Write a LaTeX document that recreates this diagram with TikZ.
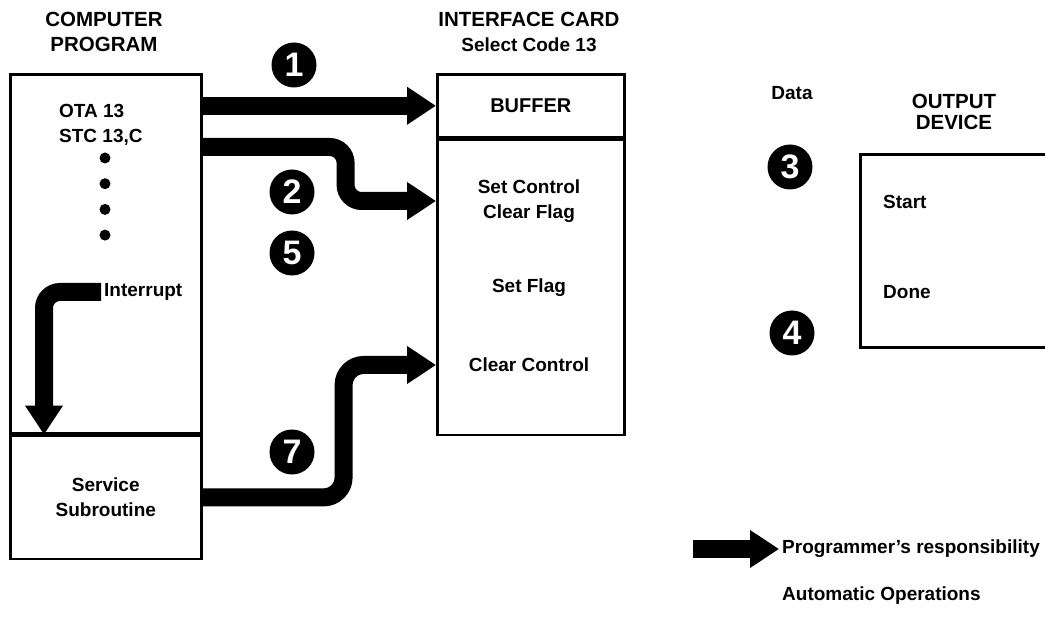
\documentclass[tikz,border=0pt]{standalone}
\usepackage{fontspec}
\setmainfont{Liberation Sans}
\usetikzlibrary{arrows.meta,positioning}

\begin{document}
\begin{tikzpicture}[
  x=1pt, y=-1pt,
  font=\bfseries\fontsize{19}{25}\selectfont,
  inner sep=3pt,
  panel/.style={draw, line width=2.6pt, inner sep=0pt, anchor=north west, align=center},
  head/.style={align=center, font=\bfseries\fontsize{20.5}{25}\selectfont},
  txt/.style={align=center},
  num/.style={circle, fill=black, text=white, inner sep=0pt, minimum size=45pt, font=\bfseries\fontsize{34}{34}\selectfont},
  fat/.style={-{Triangle[length=29pt, width=36pt]}, line width=18pt, rounded corners=16pt},
  node distance=0pt
]
\useasboundingbox (0,0) rectangle (1045,620);
\clip (0,0) rectangle (1045,620);

\node[panel, minimum width=191pt, minimum height=359pt] (prog) at (9,73) {};
\node[panel, below=of prog, minimum width=191pt, minimum height=123pt] (serv) {Service\\Subroutine};
\node[panel, minimum width=187pt, minimum height=63pt, font=\bfseries\fontsize{20}{25}\selectfont] (buffer) at (436,73) {BUFFER};
\node[panel, below=of buffer, minimum width=187pt, minimum height=295pt] (ctrl) {};
\node[panel, minimum width=260pt, minimum height=193pt] (outdev) at (859,153) {};

\node[head] (progttl) at (104,32) {COMPUTER\\PROGRAM};
\node[head] (cardttl) at (529,32) {INTERFACE CARD\\{\fontsize{19}{25}\selectfont Select Code 13}};
\node[head, font=\bfseries\fontsize{20.5}{21.5}\selectfont] (devttl) at (954,112) {OUTPUT\\DEVICE};
\node (data) at (792,93) {Data};

\node[anchor=west, align=left] (ota) at (56,124.5) {OTA 13\\STC 13,C};
\foreach \k in {0,...,3}
  \fill (105,158+25.7*\k) circle (5.5pt);
\node[anchor=west] (intr) at (101,292) {Interrupt};

\node[txt] (setctl) at (529,201) {Set Control\\Clear Flag};
\node[txt] (setflg) at (529,288) {Set Flag};
\node[txt] (clrctl) at (529,365) {Clear Control};

\node[anchor=west] (start) at (880,202) {Start};
\node[anchor=west] (done) at (880,292) {Done};

\node[num] (n1) at (294,65) {1};
\node[num] (n2) at (292,192) {2};
\node[num] (n5) at (292,253) {5};
\node[num] (n7) at (292,452) {7};
\node[num] (n3) at (790,167) {3};
\node[num] (n4) at (792,333) {4};

\draw[fat] (buffer.west -| prog.east) -- (buffer.west);
\draw[fat] ([yshift=-74pt]prog.north east) -- ++(143,0) |- (setctl.west -| ctrl.west);
\draw[fat, rounded corners=20pt] (serv.east) -- ++(141,0) |- (clrctl.west -| ctrl.west);
\draw[fat] (intr.west) -| ([xshift=35pt]serv.north west);

% legend
\node[anchor=west] (resp) at (779,549) {Programmer’s responsibility};
\node[anchor=west] (auto) at (779,596) {Automatic Operations};
\coordinate (legtail) at (693,549);
\draw[fat] (legtail) -- (resp.west);
\end{tikzpicture}
\end{document}
